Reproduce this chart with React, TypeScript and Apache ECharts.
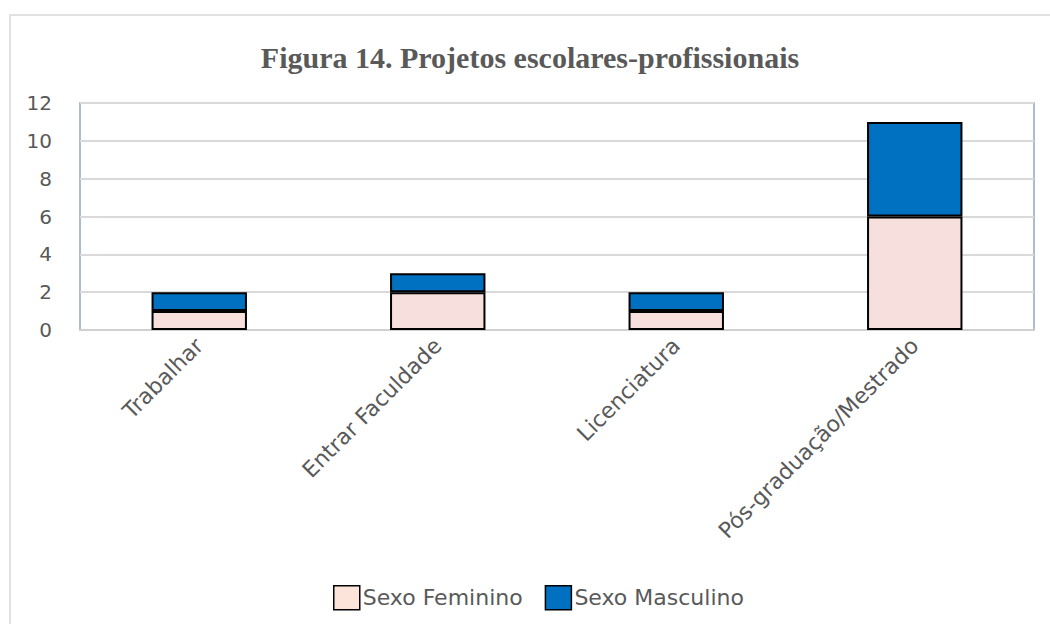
import React, { useEffect, useRef } from "react";
import * as echarts from "echarts";

const categories = ["Trabalhar", "Entrar Faculdade", "Licenciatura", "Pós-graduação/Mestrado"];
const feminino = [1, 2, 1, 6];
const masculino = [1, 1, 1, 5];
const yTicks = { min: 0, max: 12, interval: 2 };

export default function App() {
  const ref = useRef<HTMLDivElement>(null);
  useEffect(() => {
    document.body.style.margin = "0";
    const chart = echarts.init(ref.current!, null, { renderer: "svg" });
    const font = "'DejaVu Sans', 'Open Sans', sans-serif";
    chart.setOption({
      animation: false,
      backgroundColor: "#ffffff",
      title: {
        text: "Figura 14. Projetos escolares-profissionais",
        left: 525,
        textAlign: "center",
        top: 37,
        textStyle: {
          fontFamily: "'Liberation Serif', serif",
          fontWeight: "bold",
          fontSize: 30,
          color: "#595959",
        },
      },
      graphic: [
        {
          type: "rect",
          shape: { x: 10, y: 15, width: 1100, height: 700 },
          style: { fill: "none", stroke: "#D9D9D9", lineWidth: 1.5 },
          silent: true,
        },
      ],
      legend: {
        top: 580,
        left: 328,
        icon: "rect",
        itemWidth: 26,
        itemHeight: 24,
        itemGap: 22,
        textStyle: { fontFamily: font, fontSize: 22, color: "#595959", padding: [0, 0, 0, -2] },
        data: [
          { name: "Sexo Feminino", itemStyle: { color: "#FDE4DA", borderColor: "#000", borderWidth: 1.5 } },
          { name: "Sexo Masculino", itemStyle: { color: "#0070C0", borderColor: "#000", borderWidth: 1.5 } },
        ],
      },
      grid: {
        left: 80,
        right: 16,
        top: 103,
        bottom: 294,
        show: true,
        borderColor: "#8EA6BE",
        borderWidth: 1.5,
      },
      xAxis: {
        type: "category",
        data: categories,
        axisLine: { show: true, lineStyle: { color: "#D0D0D0", width: 2 } },
        axisTick: { show: false },
        axisLabel: {
          rotate: 45,
          fontFamily: font,
          fontSize: 22,
          color: "#595959",
          margin: 12,
          interval: 0,
        },
      },
      yAxis: {
        type: "value",
        min: yTicks.min,
        max: yTicks.max,
        interval: yTicks.interval,
        axisLine: { show: false },
        axisTick: { show: false },
        splitLine: { lineStyle: { color: "#D9D9D9", width: 2 } },
        axisLabel: { fontFamily: font, fontSize: 20, color: "#595959", margin: 28 },
      },
      series: [
        {
          name: "Sexo Feminino",
          type: "bar",
          stack: "total",
          barWidth: "40%",
          data: feminino,
          itemStyle: { color: "#F6DFDD", borderColor: "#000", borderWidth: 2 },
        },
        {
          name: "Sexo Masculino",
          type: "bar",
          stack: "total",
          barWidth: "40%",
          data: masculino,
          itemStyle: { color: "#0070C0", borderColor: "#000", borderWidth: 2 },
        },
      ],
    });
    return () => chart.dispose();
  }, []);
  return <div ref={ref} style={{ width: 1050, height: 624 }} />;
}
